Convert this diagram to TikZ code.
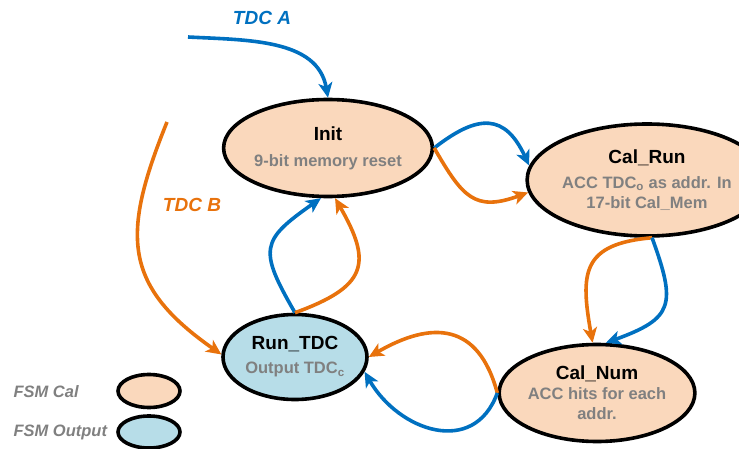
\documentclass[tikz,border=0pt]{standalone}
\usepackage{fontspec}
\setmainfont{Liberation Sans}
\usepackage{tikz}
\usetikzlibrary{arrows.meta, shapes.geometric}
\usepackage{xcolor}
\definecolor{tdcblue}{HTML}{0070C0}
\definecolor{tdcorange}{HTML}{E8720C}
\definecolor{calfill}{HTML}{FAD8BC}
\definecolor{outfill}{HTML}{B7DDE8}
\definecolor{subgray}{HTML}{808080}
\newcommand{\titlefont}{\fontsize{19}{22}\selectfont}
\tikzset{
    % FSM states
    fsm/.style={ellipse, draw=black, line width=3.6pt, inner sep=0pt, align=center,
                font=\fontsize{16.5}{20}\selectfont\bfseries, text=subgray},
    calfsm/.style={fsm, fill=calfill},
    outfsm/.style={fsm, fill=outfill},
    % Transitions
    barrow/.style={-{Stealth[length=15pt, width=14pt, inset=4pt]}, line width=3.6pt, tdcblue},
    oarrow/.style={-{Stealth[length=15pt, width=14pt, inset=4pt]}, line width=3.6pt, tdcorange},
    tdclbl/.style={font=\titlefont\bfseries\itshape, text=#1},
    % Legend
    leglbl/.style={font=\fontsize{16.5}{20}\selectfont\bfseries\itshape, text=subgray, anchor=west},
}
\begin{document}
\begin{tikzpicture}[x=1pt, y=1pt]
\useasboundingbox (0,0) rectangle (739,448);

\node[calfsm, minimum width=180, minimum height=97]  (init)   at (328,300)
    {{\titlefont\color{black}Init}\\[6pt]9-bit memory reset};
\node[calfsm, minimum width=180, minimum height=112] (calrun) at (647,268)
    {{\titlefont\color{black}Cal\_Run}\\[5pt]ACC TDC\textsubscript{o} as addr. In\\17-bit Cal\_Mem};
\node[calfsm, minimum width=192, minimum height=97]  (calnum) at (597,55)
    {{\titlefont\color{black}Cal\_Num}\\ACC hits for each\\addr.};
\node[outfsm, minimum width=144, minimum height=85]  (runtdc) at (295,91)
    {{\titlefont\color{black}Run\_TDC}\\[4pt]Output TDC\textsubscript{c}};

% inputs
\coordinate (tdcA) at (188,411);
\coordinate (tdcB) at (167,326);
\node[tdclbl=tdcblue]   (lblA) at (262,430) {TDC A};
\node[tdclbl=tdcorange] (lblB) at (192,243) {TDC B};
\draw[barrow] (tdcA) to[out=-3, in=100] (init.north);
\draw[oarrow] (tdcB) to[out=-112, in=145, looseness=1.3] (runtdc.178);

% transitions
\draw[barrow] (init.east) to[out=38, in=115, looseness=1.5] (calrun.173);
\draw[oarrow] (init.east) to[out=-60, in=-160, looseness=1.4] (calrun.186);
\draw[oarrow] (calrun.-85) to[out=185, in=100, looseness=1.5] (calnum.95);
\draw[barrow] (calrun.-85) to[out=-70, in=20, looseness=1.6] (calnum.80);
\draw[oarrow] (calnum.west) to[out=105, in=30, looseness=1.4] (runtdc.east);
\draw[barrow] (calnum.west) to[out=-110, in=-60, looseness=1.3] (runtdc.-12);
\draw[barrow] (runtdc.north) to[out=120, in=-145, looseness=1.6] (init.-98);
\draw[oarrow] (runtdc.north) to[out=20, in=-60, looseness=1.6] (init.-82);

% legend
\node[leglbl] (legcaltxt) at (10,56) {FSM Cal};
\node[leglbl] (legouttxt) at (10,16) {FSM Output};
\node[calfsm, minimum width=62, minimum height=33] (legcal) at (149,57) {};
\node[outfsm, minimum width=62, minimum height=32] (legout) at (149,16) {};
\end{tikzpicture}
\end{document}
